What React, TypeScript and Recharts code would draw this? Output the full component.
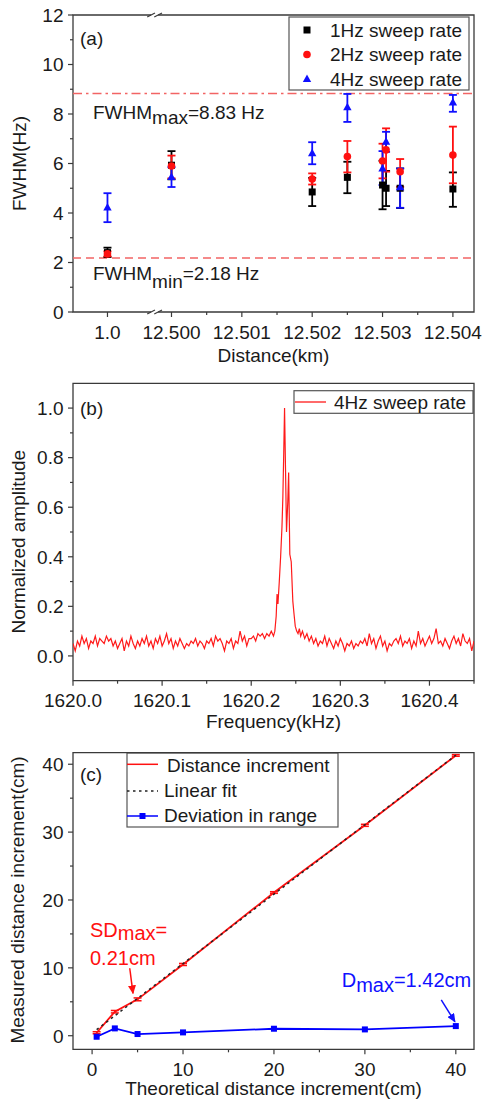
import React from 'react';
import {
  ScatterChart,
  LineChart,
  Scatter,
  Line,
  XAxis,
  YAxis,
  ErrorBar,
  ReferenceLine,
  ReferenceArea,
} from 'recharts';

const FONT = '"Liberation Sans", Arial, Helvetica, sans-serif';
const AXIS = '#3a3a3a';
const INK = '#1a1a1a';
const W = 482;

// ---------- (a) FWHM vs distance ----------
const distanceKm = [1.0, 12.5, 12.502, 12.5025, 12.503, 12.50305, 12.50325, 12.504];
const fwhm1Hz = [2.4, 5.93, 4.85, 5.44, 5.13, 5.0, 5.0, 4.97];
const err1Hz = [[0.18, 0.2], [0.57, 0.57], [0.57, 0.57], [0.64, 0.63], [0.98, 0.98], [0.72, 0.7], [0.8, 0.8], [0.72, 0.67]];
const fwhm2Hz = [2.35, 5.9, 5.37, 6.28, 6.1, 6.55, 5.67, 6.34];
const err2Hz = [[0.1, 0.1], [0.5, 0.42], [0.22, 0.23], [0.64, 0.63], [0.7, 0.7], [0.88, 0.87], [0.61, 0.51], [1.14, 1.15]];
const fwhm4Hz = [4.22, 5.45, 6.41, 8.27, 5.8, 6.88, 5.04, 8.46];
const err4Hz = [[0.59, 0.58], [0.4, 0.4], [0.44, 0.45], [0.59, 0.54], [0.67, 0.7], [0.41, 0.4], [0.83, 0.76], [0.37, 0.31]];
const fwhmMax = 8.83;
const fwhmMin = 2.18;
const distTicksKm = [1.0, 12.5, 12.501, 12.502, 12.503, 12.504];
const distTickLabels = ['1.0', '12.500', '12.501', '12.502', '12.503', '12.504'];
const distMinorKm = [12.5005, 12.5015, 12.5025, 12.5035];
const fwhmTicks = [0, 1, 2, 3, 4, 5, 6, 7, 8, 9, 10, 11, 12];
const fwhmMajor = [0, 2, 4, 6, 8, 10, 12];

// broken axis: the 1.0 km point sits on its own short segment left of the break
const BREAK_AT = -0.24;
const kmToAxis = (km: number) => (km < 12 ? -0.91 : (km - 12.5) * 1000);

// ---------- (b) spectrum ----------
const noiseStart = 1620.0;
const noiseStep = 0.0025;
const noiseLeft = [
  0.05, 0.02, 0.06, 0.04, 0.08, 0.05, 0.07, 0.03, 0.06, 0.05,
  0.08, 0.04, 0.07, 0.06, 0.05, 0.08, 0.06, 0.07, 0.04, 0.06,
  0.03, 0.05, 0.07, 0.02, 0.06, 0.04, 0.08, 0.05, 0.03, 0.06,
  0.04, 0.07, 0.05, 0.08, 0.04, 0.06, 0.03, 0.07, 0.05, 0.08,
  0.04, 0.06, 0.09, 0.05, 0.07, 0.03, 0.06, 0.04, 0.07, 0.05,
  0.03, 0.05, 0.04, 0.06, 0.05, 0.07, 0.04, 0.06, 0.05, 0.03,
  0.06, 0.05, 0.07, 0.04, 0.08, 0.06, 0.07, 0.05, 0.02, 0.06,
  0.05, 0.07, 0.03, 0.06, 0.05, 0.1, 0.06, 0.08, 0.04, 0.07,
  0.07, 0.08, 0.06, 0.09, 0.08, 0.09, 0.07, 0.09, 0.08, 0.1,
];
const peakFreq = [
  1620.225, 1620.2265, 1620.228, 1620.229, 1620.23, 1620.2315, 1620.233, 1620.2345,
  1620.2355, 1620.2365, 1620.2374, 1620.2385, 1620.2396, 1620.241, 1620.242, 1620.2433,
  1620.2449, 1620.2467, 1620.248, 1620.2494, 1620.251, 1620.2525, 1620.254, 1620.2555,
];
const peakAmp = [
  0.08, 0.1, 0.16, 0.25, 0.21, 0.3, 0.4, 0.52,
  0.64, 0.82, 1.0, 0.75, 0.5, 0.62, 0.74, 0.41,
  0.38, 0.22, 0.17, 0.12, 0.1, 0.09, 0.11, 0.08,
];
const noiseRightStart = 1620.2575;
const noiseRight = [
  0.1, 0.07, 0.09, 0.06, 0.08, 0.05, 0.07, 0.04, 0.06, 0.05,
  0.08, 0.04, 0.07, 0.05, 0.03, 0.06, 0.04, 0.07, 0.05, 0.02,
  0.05, 0.04, 0.06, 0.03, 0.05, 0.04, 0.06, 0.05, 0.07, 0.04,
  0.09, 0.05, 0.07, 0.03, 0.06, 0.08, 0.04, 0.06, 0.02, 0.05,
  0.04, 0.06, 0.07, 0.05, 0.08, 0.04, 0.06, 0.05, 0.07, 0.03,
  0.06, 0.04, 0.1, 0.05, 0.07, 0.04, 0.06, 0.08, 0.05, 0.07,
  0.11, 0.05, 0.06, 0.04, 0.07, 0.05, 0.03, 0.06, 0.08, 0.05,
  0.07, 0.04, 0.09, 0.06, 0.05, 0.07, 0.02, 0.06,
];
const freqTicks = [1620.0, 1620.05, 1620.1, 1620.15, 1620.2, 1620.25, 1620.3, 1620.35, 1620.4, 1620.45];
const freqMajor = [1620.0, 1620.1, 1620.2, 1620.3, 1620.4];
const ampTicks = [0, 0.1, 0.2, 0.3, 0.4, 0.5, 0.6, 0.7, 0.8, 0.9, 1.0];
const ampMajor = [0, 0.2, 0.4, 0.6, 0.8, 1.0];

// ---------- (c) distance increment ----------
const theoreticalCm = [0.5, 2.5, 5, 10, 20, 30, 40];
const measuredCm = [0.44, 3.54, 5.36, 10.5, 21.1, 31.0, 41.3];
const measuredSd = [0.15, 0.18, 0.21, 0.15, 0.12, 0.15, 0.12];
const deviationCm = [-0.15, 1.08, 0.25, 0.49, 1.03, 0.93, 1.42];
const fitX = [0.5, 40];
const fitY = [0.9, 41.33];
const incTicks = [0, 5, 10, 15, 20, 25, 30, 35, 40];
const incMajor = [0, 10, 20, 30, 40];

const rows = (ys: number[], errs: number[][]) =>
  distanceKm.map((d, i) => ({ x: kmToAxis(d), y: ys[i], err: errs[i] }));
const rows1 = rows(fwhm1Hz, err1Hz);
const rows2 = rows(fwhm2Hz, err2Hz);
const rows4 = rows(fwhm4Hz, err4Hz);

const spectrum = [
  ...noiseLeft.map((a, i) => ({ f: noiseStart + i * noiseStep, a })),
  ...peakFreq.map((f, i) => ({ f, a: peakAmp[i] })),
  ...noiseRight.map((a, i) => ({ f: noiseRightStart + i * noiseStep, a })),
];

const measuredRows = theoreticalCm.map((x, i) => ({ x, y: measuredCm[i], sd: measuredSd[i] }));
const deviationRows = theoreticalCm.map((x, i) => ({ x, y: deviationCm[i] }));
const fitRows = fitX.map((x, i) => ({ x, y: fitY[i] }));

const near = (list: number[], v: number) => list.findIndex((m) => Math.abs(m - v) < 1e-7);

function bottomTick(majors: number[], label: (v: number, i: number) => string) {
  return (props: any) => {
    const { x, y, payload } = props;
    const i = near(majors, payload.value);
    return (
      <g>
        <line x1={x} x2={x} y1={y} y2={y + (i >= 0 ? 5 : 3)} stroke={AXIS} strokeWidth={1.2} />
        {i >= 0 && (
          <text x={x} y={y + 26.5} textAnchor="middle" fontSize={19} fontFamily={FONT} fill={INK}>
            {label(payload.value, i)}
          </text>
        )}
      </g>
    );
  };
}

function leftTick(majors: number[], label: (v: number) => string) {
  return (props: any) => {
    const { x, y, payload } = props;
    const i = near(majors, payload.value);
    return (
      <g>
        <line x1={x} x2={x - (i >= 0 ? 5 : 3)} y1={y} y2={y} stroke={AXIS} strokeWidth={1.2} />
        {i >= 0 && (
          <text x={x - 9.5} y={y + 6.8} textAnchor="end" fontSize={19} fontFamily={FONT} fill={INK}>
            {label(payload.value)}
          </text>
        )}
      </g>
    );
  };
}

const SquareDot = (p: any) => <rect x={p.cx - 3.5} y={p.cy - 3.5} width={7} height={7} fill="#000" />;
const CircleDot = (p: any) => <circle cx={p.cx} cy={p.cy} r={3.8} fill="#ff1010" />;
const TriangleDot = (p: any) => (
  <polygon points={`${p.cx},${p.cy - 4.5} ${p.cx + 4.2},${p.cy + 3} ${p.cx - 4.2},${p.cy + 3}`} fill="#1010ff" />
);
const BlueSquare = (p: any) => (
  <rect key={`bs-${p.index}`} x={p.cx - 3} y={p.cy - 3} width={6} height={6} fill="#0000ff" />
);

const textStyle = { fontFamily: FONT, fill: INK };

function PanelA() {
  const tickPos = distTicksKm.map(kmToAxis);
  const xTicks = [...tickPos, ...distMinorKm.map(kmToAxis)].sort((a, b) => a - b);
  return (
    <ScatterChart width={W} height={370} margin={{ top: 15, right: 8, bottom: 0, left: 0 }}>
      <XAxis
        dataKey="x"
        type="number"
        domain={[-1.4, 4.3]}
        allowDataOverflow
        ticks={xTicks}
        interval={0}
        height={58}
        tickSize={0}
        tickMargin={0}
        axisLine={false}
        tickLine={false}
        tick={bottomTick(tickPos, (_v, i) => distTickLabels[i])}
      />
      <YAxis
        dataKey="y"
        type="number"
        domain={[0, 12]}
        allowDataOverflow
        ticks={fwhmTicks}
        interval={0}
        width={73}
        tickSize={0}
        tickMargin={0}
        axisLine={false}
        tickLine={false}
        tick={leftTick(fwhmMajor, (v) => String(v))}
      />
      <ReferenceArea x1={-1.4} x2={4.3} y1={0} y2={12} fill="none" stroke={AXIS} strokeWidth={1.3} ifOverflow="visible" />
      <ReferenceLine y={fwhmMax} stroke="#f26464" strokeWidth={1.6} strokeDasharray="9 4 2.5 4" />
      <ReferenceLine y={fwhmMin} stroke="#f26464" strokeWidth={1.6} strokeDasharray="8 5" />
      {[0, 12].map((yv) => (
        <ReferenceLine
          key={`gap-${yv}`}
          segment={[{ x: BREAK_AT - 0.05, y: yv }, { x: BREAK_AT + 0.05, y: yv }]}
          stroke="#fff"
          strokeWidth={3}
          ifOverflow="visible"
        />
      ))}
      {[0, 12].flatMap((yv) =>
        [BREAK_AT - 0.05, BREAK_AT + 0.05].map((bx) => (
          <ReferenceLine
            key={`brk-${yv}-${bx}`}
            segment={[{ x: bx - 0.055, y: yv - 0.08 }, { x: bx + 0.055, y: yv + 0.08 }]}
            stroke={AXIS}
            strokeWidth={1.2}
            ifOverflow="visible"
          />
        )),
      )}
      <Scatter data={rows1} shape={SquareDot} isAnimationActive={false}>
        <ErrorBar dataKey="err" direction="y" width={4} stroke="#000" strokeWidth={1.8} />
      </Scatter>
      <Scatter data={rows2} shape={CircleDot} isAnimationActive={false}>
        <ErrorBar dataKey="err" direction="y" width={4} stroke="#ff1010" strokeWidth={1.8} />
      </Scatter>
      <Scatter data={rows4} shape={TriangleDot} isAnimationActive={false}>
        <ErrorBar dataKey="err" direction="y" width={4} stroke="#1010ff" strokeWidth={1.8} />
      </Scatter>

      <g style={textStyle} fontSize={19}>
        <text x={80} y={44.5}>(a)</text>
        <text x={93} y={119}>
          FWHM<tspan dy={5}>max</tspan>
          <tspan dy={-5}>=8.83 Hz</tspan>
        </text>
        <text x={93} y={280}>
          FWHM<tspan dy={8}>min</tspan>
          <tspan dy={-8}>=2.18 Hz</tspan>
        </text>
        <text x={273.5} y={361.7} textAnchor="middle">Distance(km)</text>
        <text x={26} y={163.5} textAnchor="middle" transform="rotate(-90 26 163.5)">FWHM(Hz)</text>
        <rect x={289} y={17} width={180} height={73} fill="#fff" stroke="#555" strokeWidth={1.2} />
        <rect x={303.5} y={26.5} width={7} height={7} fill="#000" />
        <text x={330} y={36.5}>1Hz sweep rate</text>
        <circle cx={307} cy={54.5} r={3.8} fill="#ff1010" />
        <text x={330} y={61}>2Hz sweep rate</text>
        <polygon points="307,74.5 311.2,82 302.8,82" fill="#1010ff" />
        <text x={330} y={85.5}>4Hz sweep rate</text>
      </g>
    </ScatterChart>
  );
}

function PanelB() {
  return (
    <LineChart width={W} height={365} data={spectrum} margin={{ top: 13.3, right: 8, bottom: 0, left: 0 }}>
      <XAxis
        dataKey="f"
        type="number"
        domain={[1620, 1620.45]}
        allowDataOverflow
        ticks={freqTicks}
        interval={0}
        height={54.3}
        tickSize={0}
        tickMargin={0}
        axisLine={false}
        tickLine={false}
        tick={bottomTick(freqMajor, (v) => v.toFixed(1))}
      />
      <YAxis
        type="number"
        domain={[-0.1, 1.1]}
        allowDataOverflow
        ticks={ampTicks}
        interval={0}
        width={73}
        tickSize={0}
        tickMargin={0}
        axisLine={false}
        tickLine={false}
        tick={leftTick(ampMajor, (v) => v.toFixed(1))}
      />
      <ReferenceArea x1={1620} x2={1620.45} y1={-0.1} y2={1.1} fill="none" stroke={AXIS} strokeWidth={1.3} ifOverflow="visible" />
      <Line dataKey="a" stroke="#ff1a1a" strokeWidth={1.2} dot={false} isAnimationActive={false} />

      <g style={textStyle} fontSize={19}>
        <text x={80} y={44.5}>(b)</text>
        <text x={273.5} y={358.3} textAnchor="middle">Frequency(kHz)</text>
        <text x={25} y={171.7} textAnchor="middle" transform="rotate(-90 25 171.7)">Normalized amplitude</text>
        <rect x={294} y={20.7} width={179} height={22.6} fill="#fff" stroke="#555" strokeWidth={1.2} />
        <line x1={295} x2={326} y1={32} y2={32} stroke="#ff1a1a" strokeWidth={1.3} />
        <text x={334} y={38.5}>4Hz sweep rate</text>
      </g>
    </LineChart>
  );
}

function PanelC() {
  return (
    <LineChart width={W} height={369} margin={{ top: 17.7, right: 8, bottom: 0, left: 0 }}>
      <defs>
        <marker id="arrowRed" markerWidth={9} markerHeight={8} refX={8} refY={4} orient="auto" markerUnits="userSpaceOnUse">
          <path d="M0,0 L9,4 L0,8 z" fill="#ff1010" />
        </marker>
        <marker id="arrowBlue" markerWidth={9} markerHeight={8} refX={8} refY={4} orient="auto" markerUnits="userSpaceOnUse">
          <path d="M0,0 L9,4 L0,8 z" fill="#1010ff" />
        </marker>
      </defs>
      <XAxis
        dataKey="x"
        type="number"
        domain={[-2.1, 42]}
        allowDataOverflow
        ticks={incTicks}
        interval={0}
        height={54.7}
        tickSize={0}
        tickMargin={0}
        axisLine={false}
        tickLine={false}
        tick={bottomTick(incMajor, (v) => String(v))}
      />
      <YAxis
        type="number"
        domain={[-2, 41.7]}
        allowDataOverflow
        ticks={incTicks}
        interval={0}
        width={73}
        tickSize={0}
        tickMargin={0}
        axisLine={false}
        tickLine={false}
        tick={leftTick(incMajor, (v) => String(v))}
      />
      <ReferenceArea x1={-2.1} x2={42} y1={-2} y2={41.7} fill="none" stroke={AXIS} strokeWidth={1.3} ifOverflow="visible" />
      <Line data={measuredRows} dataKey="y" stroke="#ff1010" strokeWidth={1.8} dot={false} isAnimationActive={false}>
        <ErrorBar dataKey="sd" direction="y" width={4} stroke="#ff1010" strokeWidth={1.5} />
      </Line>
      <Line
        data={fitRows}
        dataKey="y"
        stroke="#222"
        strokeWidth={1.5}
        strokeDasharray="2.5 3.5"
        dot={false}
        isAnimationActive={false}
      />
      <Line data={deviationRows} dataKey="y" stroke="#0000ff" strokeWidth={1.8} dot={BlueSquare} isAnimationActive={false} />
      <ReferenceLine
        segment={[{ x: 4.14, y: 9.94 }, { x: 4.5, y: 6.25 }]}
        stroke="#ff1010"
        strokeWidth={1.5}
        markerEnd="url(#arrowRed)"
        ifOverflow="visible"
      />
      <ReferenceLine
        segment={[{ x: 38.4, y: 5.27 }, { x: 39.9, y: 2.06 }]}
        stroke="#1010ff"
        strokeWidth={1.5}
        markerEnd="url(#arrowBlue)"
        ifOverflow="visible"
      />

      <g style={textStyle} fontSize={19}>
        <text x={80} y={46}>(c)</text>
        <text x={273.5} y={360} textAnchor="middle">Theoretical distance increment(cm)</text>
        <text x={24} y={165} textAnchor="middle" transform="rotate(-90 24 165)">Measured distance increment(cm)</text>
        <rect x={127} y={18} width={211} height={74} fill="#fff" stroke="#555" strokeWidth={1.2} />
        <line x1={127} x2={158} y1={29.3} y2={29.3} stroke="#ff1010" strokeWidth={1.5} />
        <text x={167} y={36.7}>Distance increment</text>
        <line x1={127} x2={158} y1={56} y2={56} stroke="#222" strokeWidth={1.5} strokeDasharray="2.5 3.5" />
        <text x={164} y={61.7}>Linear fit</text>
        <line x1={127} x2={158} y1={81} y2={81} stroke="#0000ff" strokeWidth={1.5} />
        <rect x={139.5} y={78} width={6} height={6} fill="#0000ff" />
        <text x={164} y={86.7}>Deviation in range</text>
      </g>
      <g fontFamily={FONT} fontSize={20}>
        <text x={90} y={201.7} fill="#ff1010">
          SD<tspan dy={3.5}>max</tspan>
          <tspan dy={-3.5}>=</tspan>
        </text>
        <text x={90} y={230} fill="#ff1010">0.21cm</text>
        <text x={341.7} y={251.7} fill="#1010ff">
          D<tspan dy={5}>max</tspan>
          <tspan dy={-5}>=1.42cm</tspan>
        </text>
      </g>
    </LineChart>
  );
}

export default function App() {
  return (
    <div style={{ position: 'absolute', left: 0, top: 0, width: W, height: 1104, background: '#fff' }}>
      <PanelA />
      <PanelB />
      <PanelC />
    </div>
  );
}
